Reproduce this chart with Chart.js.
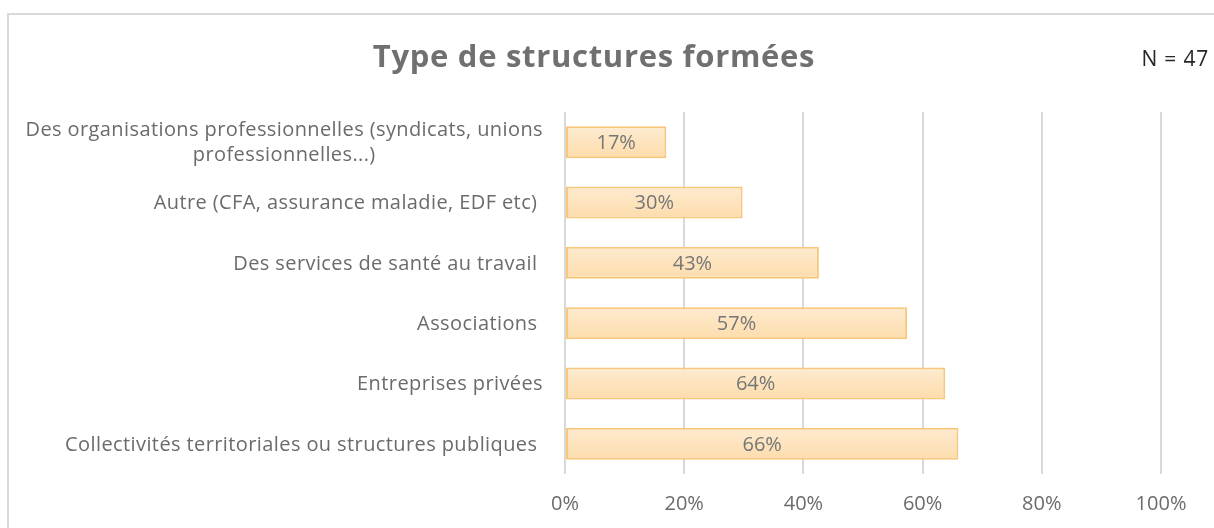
<!DOCTYPE html>
<html>
<head>
<meta charset="utf-8">
<script src="https://cdn.jsdelivr.net/npm/chart.js@4"></script>
<style>
  body { margin: 0; background: #fff; }
  #frame { position: absolute; left: 7px; top: 13px; width: 1300px; height: 600px; border: 2px solid #d9d9d9; }
  #wrap { position: absolute; left: 0; top: 0; width: 1214px; height: 528px; }
</style>
</head>
<body>
<div id="frame"></div>
<div id="wrap"><canvas id="chart-structures"></canvas></div>
<script>
// Type de structures formées
let labelsStructures = [
    ['Des organisations professionnelles (syndicats, unions', 'professionnelles...)'],
    'Autre (CFA, assurance maladie, EDF etc) ',
    'Des services de santé au travail ',
    'Associations ',
    'Entreprises privées',
    'Collectivités territoriales ou structures publiques '
];
let dataStructures = [17.0, 29.8, 42.6, 57.4, 63.8, 66.0];
let ticksPercent = [0, 20, 40, 60, 80, 100];

const fontName = '"Open Sans", Lato, sans-serif';
const greyText = '#6b6b6b';

// titre + N, dessinés en haut
const titlePlugin = {
    id: 'titleN',
    afterDraw(chart) {
        const ctx = chart.ctx;
        ctx.save();
        ctx.fillStyle = '#707070';
        ctx.font = 'bold 31px ' + fontName;
        ctx.letterSpacing = '0.7px';
        ctx.textAlign = 'center';
        ctx.textBaseline = 'middle';
        ctx.fillText('Type de structures formées', 594, 58);
        ctx.fillStyle = '#262626';
        ctx.font = '21px ' + fontName;
        ctx.letterSpacing = '0.8px';
        ctx.textAlign = 'right';
        ctx.fillText('N = 47', 1209, 60);
        ctx.restore();
    }
};

// libellés des catégories, bloc aligné à droite, lignes centrées
const catLabels = {
    id: 'catLabels',
    afterDraw(chart) {
        const ctx = chart.ctx;
        const yScale = chart.scales.y;
        ctx.save();
        ctx.fillStyle = greyText;
        ctx.font = '20px ' + fontName;
        ctx.letterSpacing = '0.4px';
        ctx.textBaseline = 'middle';
        labelsStructures.forEach((lab, i) => {
            const lines = Array.isArray(lab) ? lab : [lab];
            const y = yScale.getPixelForValue(i) + 1;
            const right = 543;
            if (lines.length === 1) {
                ctx.textAlign = 'right';
                ctx.fillText(lines[0], right, y);
            } else {
                const w = Math.max(...lines.map(l => ctx.measureText(l).width));
                const cx = right - w / 2;
                ctx.textAlign = 'center';
                const lh = 25;
                lines.forEach((l, k) => {
                    ctx.fillText(l, cx, y + (k - (lines.length - 1) / 2) * lh);
                });
            }
        });
        ctx.restore();
    }
};

// valeurs au centre des barres
const valueLabels = {
    id: 'valueLabels',
    afterDatasetsDraw(chart) {
        const ctx = chart.ctx;
        const meta = chart.getDatasetMeta(0);
        ctx.save();
        ctx.fillStyle = '#767676';
        ctx.font = '20px ' + fontName;
        ctx.textAlign = 'center';
        ctx.textBaseline = 'middle';
        meta.data.forEach((bar, i) => {
            const x = (bar.x + bar.base) / 2;
            ctx.fillText(Math.round(dataStructures[i]) + '%', x, bar.y + 1);
        });
        ctx.restore();
    }
};

var ctxStructures = document.getElementById('chart-structures').getContext('2d');

// dégradé léger des barres
function barFill(context) {
    const bar = context.element;
    if (!bar || !Number.isFinite(bar.y)) return '#fde4bd';
    const g = context.chart.ctx.createLinearGradient(0, bar.y - 16, 0, bar.y + 16);
    g.addColorStop(0, '#fdebd0');
    g.addColorStop(1, '#fddcab');
    return g;
}

let chartStructures = new Chart(ctxStructures, {
    type: 'bar',
    data: {
        labels: labelsStructures,
        datasets: [{
            data: dataStructures,
            backgroundColor: barFill,
            borderColor: '#f9c77c',
            borderWidth: 2,
            borderSkipped: false,
            categoryPercentage: 0.53,
            barPercentage: 1
        }]
    },
    options: {
        indexAxis: 'y',
        responsive: true,
        maintainAspectRatio: false,
        animation: false,
        layout: { padding: { top: 112, right: 53, bottom: 0, left: 0 } },
        plugins: {
            legend: { display: false },
            title: { display: false },
            tooltip: { enabled: false }
        },
        scales: {
            x: {
                min: 0,
                max: 100,
                afterBuildTicks(scale) {
                    scale.ticks = ticksPercent.map(v => ({ value: v }));
                },
                afterFit(scale) { scale.height = 54; },
                grid: { color: '#d9d9d9', lineWidth: 2, drawTicks: false },
                border: { display: false },
                ticks: {
                    color: greyText,
                    font: { family: fontName, size: 20 },
                    padding: 18,
                    callback: v => v + '%'
                }
            },
            y: {
                afterFit(scale) { scale.width = 565; },
                grid: { display: false },
                border: { display: false },
                ticks: { display: false }
            }
        }
    },
    plugins: [titlePlugin, catLabels, valueLabels]
});
chartStructures.update();
</script>
</body>
</html>
